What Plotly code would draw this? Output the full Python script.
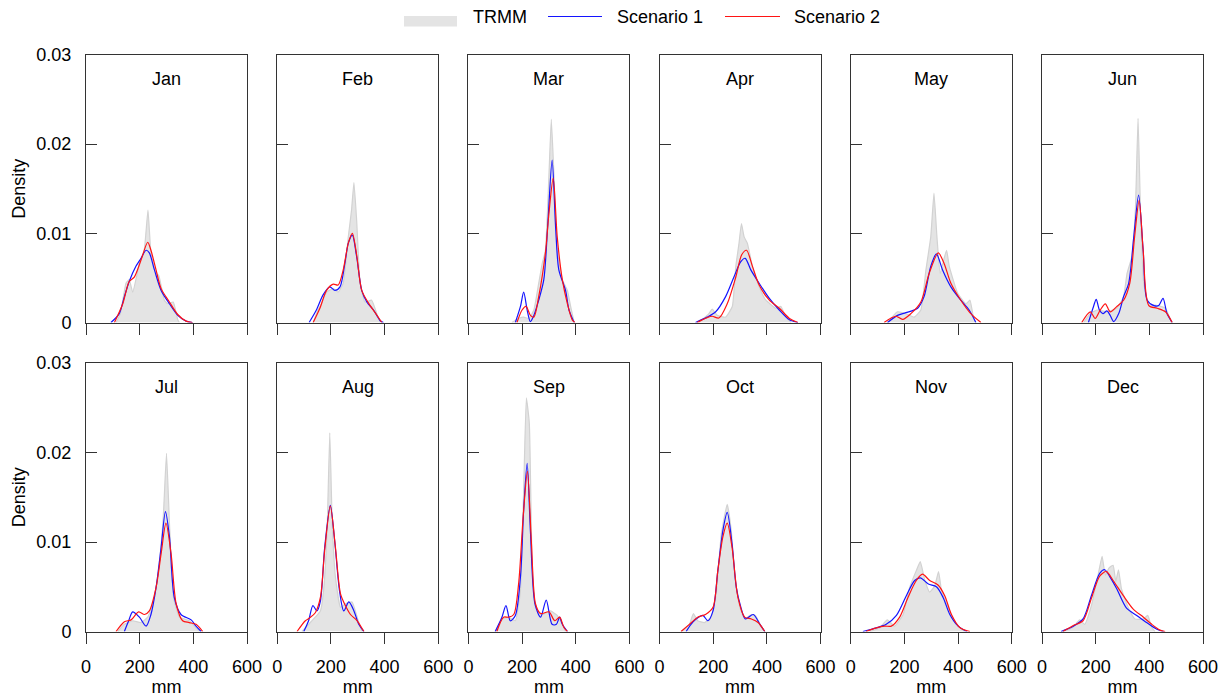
import plotly.graph_objects as go

# ---------------- data (density values in units of 1e-3) ----------------
SCALE = 1e-3
MONTHS = ["Jan", "Feb", "Mar", "Apr", "May", "Jun",
          "Jul", "Aug", "Sep", "Oct", "Nov", "Dec"]
X_TICKS = [0, 200, 400, 600]
Y_TICKS = [0, 0.01, 0.02, 0.03]
Y_TICK_TEXT = ["0", "0.01", "0.02", "0.03"]
SERIES_NAMES = ["TRMM", "Scenario 1", "Scenario 2"]

JAN_TRMM = ([112, 128, 140, 149, 161, 174, 199, 217, 231, 242, 261, 271, 292, 304, 325, 342, 348],
            [0, 1.0, 3.0, 4.4, 4.8, 3.4, 6.6, 8.1, 12.6, 7.8, 5.5, 5.3, 2.5, 2.1, 2.3, 0.3, 0])
JAN_S1 = ([93, 124, 143, 161, 186, 205, 224, 236, 255, 280, 311, 342, 373, 397],
          [0, 1.0, 2.9, 4.6, 6.3, 7.2, 8.1, 7.8, 5.9, 3.6, 2.1, 0.8, 0.15, 0])
JAN_S2 = ([106, 137, 161, 180, 205, 230, 242, 261, 280, 311, 342, 373, 397],
          [0, 2.1, 4.6, 5.1, 7.0, 9.0, 8.1, 5.9, 3.8, 2.3, 0.9, 0.15, 0])

FEB_TRMM = ([134, 152, 165, 184, 209, 227, 246, 265, 277, 286, 296, 309, 327, 352, 371, 384],
            [0, 1.4, 2.1, 3.4, 3.8, 3.4, 4.4, 9.6, 12.6, 15.7, 11.5, 4.4, 2.3, 2.5, 1.0, 0])
FEB_S1 = ([119, 146, 171, 196, 215, 234, 252, 265, 280, 296, 315, 334, 359, 384, 396],
          [0, 1.4, 3.1, 4.0, 3.6, 4.0, 6.6, 8.9, 9.8, 7.4, 3.6, 2.3, 1.4, 0.2, 0])
FEB_S2 = ([134, 159, 184, 209, 227, 246, 265, 280, 296, 315, 340, 365, 390],
          [0, 1.6, 3.6, 4.3, 4.2, 5.9, 8.9, 10.0, 7.6, 3.6, 2.2, 1.1, 0])

MAR_TRMM = ([162, 187, 206, 225, 244, 262, 275, 287, 300, 309, 319, 331, 350, 369, 381, 394],
            [0, 0.45, 0.6, 0.45, 1.4, 4.4, 6.6, 8.1, 16.4, 22.8, 16.4, 8.1, 4.8, 3.6, 1.8, 0])
MAR_S1 = ([175, 194, 206, 219, 231, 244, 262, 281, 296, 312, 325, 337, 362, 375, 394],
          [0, 1.8, 3.4, 1.4, 0.1, 0.8, 2.5, 4.8, 11.1, 18.2, 10.7, 5.9, 3.6, 1.4, 0])
MAR_S2 = ([181, 200, 215, 231, 244, 262, 287, 300, 316, 331, 350, 369, 387, 397],
          [0, 1.4, 1.8, 0.8, 0.6, 2.9, 7.8, 12.2, 16.2, 9.6, 4.8, 2.1, 0.3, 0])

APR_TRMM = ([146, 184, 196, 215, 246, 271, 284, 296, 305, 315, 327, 346, 371, 396, 434, 452, 471, 490],
            [0, 1.0, 1.5, 0.8, 0.6, 1.8, 6.3, 8.9, 11.1, 9.6, 8.9, 6.3, 4.0, 2.5, 1.6, 1.8, 0.6, 0])
APR_S1 = ([134, 177, 209, 246, 277, 302, 319, 340, 371, 409, 446, 484, 515],
          [0, 0.6, 1.2, 2.9, 5.1, 6.8, 7.2, 5.9, 4.4, 2.7, 1.4, 0.3, 0])
APR_S2 = ([140, 177, 196, 221, 252, 284, 306, 324, 346, 371, 409, 446, 484, 515],
          [0, 0.55, 0.7, 0.5, 2.1, 5.1, 7.6, 8.1, 6.3, 4.2, 2.5, 1.6, 0.45, 0])

MAY_TRMM = ([137, 174, 205, 236, 261, 280, 298, 310, 321, 333, 346, 357, 367, 398, 429, 444, 457, 466],
            [0, 1.2, 1.0, 0.6, 1.4, 5.9, 9.6, 14.5, 9.6, 5.5, 7.0, 8.1, 6.3, 3.3, 2.1, 2.5, 0.6, 0])
MAY_S1 = ([137, 174, 205, 249, 273, 298, 319, 342, 373, 410, 441, 466],
          [0, 0.8, 1.1, 1.6, 2.9, 6.3, 7.7, 5.9, 4.0, 2.5, 1.4, 0])
MAY_S2 = ([124, 168, 193, 224, 261, 292, 326, 348, 373, 410, 447, 485],
          [0, 0.7, 0.35, 1.0, 2.3, 5.5, 7.8, 6.6, 4.4, 2.5, 1.0, 0])

JUN_TRMM = ([155, 180, 205, 242, 279, 304, 317, 335, 348, 358, 367, 379, 398, 429, 460, 479, 485],
            [0, 1.0, 1.4, 1.2, 1.6, 2.9, 5.5, 7.4, 12.6, 22.9, 12.6, 4.4, 2.1, 1.9, 1.6, 0.3, 0])
JUN_S1 = ([173, 192, 202, 214, 227, 242, 254, 267, 286, 304, 323, 342, 360, 377, 392, 417, 435, 451, 466, 485],
          [0, 1.8, 2.6, 1.4, 1.0, 1.3, 0.8, 0.1, 1.0, 2.9, 4.4, 9.6, 14.3, 8.1, 2.5, 1.9, 1.9, 2.7, 1.0, 0])
JUN_S2 = ([148, 180, 198, 217, 236, 254, 279, 304, 327, 345, 362, 377, 398, 429, 460, 485],
          [0, 1.2, 0.45, 1.4, 2.1, 1.2, 1.8, 2.5, 4.4, 9.6, 13.7, 8.1, 1.9, 1.6, 1.2, 0])

JUL_TRMM = ([118, 143, 174, 205, 230, 255, 273, 288, 300, 311, 326, 348, 385, 410, 423],
            [0, 0.8, 1.2, 1.0, 1.6, 3.8, 7.6, 12.8, 19.9, 12.1, 3.8, 1.6, 1.2, 0.4, 0])
JUL_S1 = ([143, 159, 174, 199, 224, 242, 261, 280, 296, 311, 329, 354, 392, 410, 429],
          [0, 1.2, 2.2, 1.6, 0.6, 1.9, 4.9, 9.4, 13.4, 10.6, 3.8, 1.9, 1.3, 0.6, 0])
JUL_S2 = ([112, 143, 168, 196, 218, 236, 261, 280, 298, 317, 336, 360, 385, 410, 435],
          [0, 1.1, 1.3, 2.2, 1.9, 2.3, 4.9, 8.7, 12.1, 8.7, 3.1, 1.2, 1.0, 0.8, 0])

AUG_TRMM = ([92, 117, 142, 161, 173, 186, 196, 205, 217, 236, 254, 279, 298, 310, 317],
            [0, 0.8, 1.6, 2.3, 4.6, 11.3, 22.2, 12.1, 6.1, 2.7, 3.1, 3.3, 1.6, 0.45, 0])
AUG_S1 = ([99, 117, 133, 148, 161, 177, 198, 214, 232, 248, 267, 286, 304, 323],
          [0, 1.2, 2.9, 2.3, 3.4, 9.4, 14.1, 10.2, 4.6, 2.3, 3.3, 2.3, 0.8, 0])
AUG_S2 = ([74, 105, 120, 142, 161, 177, 198, 217, 236, 254, 273, 298, 323],
          [0, 1.2, 1.5, 2.1, 3.8, 9.1, 14.0, 9.4, 4.2, 2.9, 1.9, 1.2, 0])

SEP_TRMM = ([100, 125, 150, 175, 194, 206, 216, 227, 237, 250, 275, 306, 331, 350, 362],
            [0, 1.4, 1.6, 1.2, 4.6, 15.8, 26.1, 23.3, 8.3, 2.7, 1.9, 2.3, 1.8, 0.8, 0])
SEP_S1 = ([100, 125, 140, 156, 175, 194, 206, 219, 231, 248, 269, 290, 312, 328, 340, 350, 369],
          [0, 1.6, 2.9, 1.2, 1.8, 6.1, 13.6, 18.8, 11.3, 3.1, 1.6, 3.5, 0.8, 0.8, 1.6, 0.8, 0])
SEP_S2 = ([106, 131, 150, 169, 187, 204, 220, 235, 250, 269, 300, 322, 340, 356, 369],
          [0, 1.6, 1.6, 1.9, 5.3, 12.8, 17.9, 9.8, 3.1, 2.0, 2.2, 1.2, 1.6, 0.45, 0])

OCT_TRMM = ([80, 111, 126, 142, 167, 192, 211, 230, 252, 267, 280, 299, 317, 342, 357, 380, 392],
            [0, 0.8, 2.0, 1.2, 1.0, 1.6, 4.2, 10.9, 14.2, 11.3, 6.1, 2.7, 1.4, 1.9, 1.8, 0.45, 0])
OCT_S1 = ([99, 117, 136, 161, 180, 199, 217, 236, 252, 270, 286, 302, 320, 349, 374, 392],
          [0, 0.8, 1.4, 1.8, 1.2, 2.3, 6.8, 11.3, 13.3, 9.8, 4.9, 2.8, 1.4, 1.9, 0.8, 0])
OCT_S2 = ([80, 111, 142, 171, 199, 217, 236, 252, 270, 292, 317, 342, 367, 392],
          [0, 0.8, 1.6, 1.9, 2.7, 6.8, 10.6, 12.1, 9.4, 3.8, 1.6, 1.4, 1.0, 0])

NOV_TRMM = ([70, 107, 136, 163, 195, 219, 244, 259, 276, 294, 313, 327, 338, 357, 382, 406, 425],
            [0, 0.4, 1.3, 0.6, 1.9, 4.9, 6.8, 7.8, 5.7, 4.4, 5.1, 6.7, 4.6, 3.1, 1.4, 0.45, 0])
NOV_S1 = ([45, 95, 132, 170, 207, 238, 259, 289, 319, 344, 369, 400, 432],
          [0, 0.4, 0.8, 1.8, 4.0, 5.7, 6.0, 5.3, 5.0, 3.8, 1.9, 0.6, 0])
NOV_S2 = ([57, 95, 126, 151, 182, 213, 244, 267, 294, 325, 350, 375, 406, 444],
          [0, 0.4, 0.6, 0.6, 1.6, 3.8, 5.7, 6.4, 5.7, 5.2, 4.0, 1.9, 0.45, 0])

DEC_TRMM = ([78, 115, 140, 159, 184, 209, 224, 236, 250, 265, 275, 285, 296, 321, 346, 378, 394, 409, 421],
            [0, 0.45, 1.3, 0.8, 2.9, 6.3, 8.4, 6.3, 7.1, 7.4, 5.6, 6.9, 4.8, 2.7, 1.4, 1.4, 1.8, 0.45, 0])
DEC_S1 = ([71, 115, 153, 184, 215, 234, 253, 278, 315, 353, 390, 428, 453],
          [0, 0.55, 1.4, 4.0, 6.5, 6.9, 6.1, 4.8, 2.6, 1.8, 1.0, 0.25, 0])
DEC_S2 = ([78, 115, 153, 184, 215, 240, 265, 303, 340, 378, 409, 440, 459],
          [0, 0.65, 1.2, 3.7, 6.2, 6.7, 5.7, 4.0, 2.5, 1.6, 0.8, 0.15, 0])

DATA = {
    "Jan": (JAN_TRMM, JAN_S1, JAN_S2), "Feb": (FEB_TRMM, FEB_S1, FEB_S2),
    "Mar": (MAR_TRMM, MAR_S1, MAR_S2), "Apr": (APR_TRMM, APR_S1, APR_S2),
    "May": (MAY_TRMM, MAY_S1, MAY_S2), "Jun": (JUN_TRMM, JUN_S1, JUN_S2),
    "Jul": (JUL_TRMM, JUL_S1, JUL_S2), "Aug": (AUG_TRMM, AUG_S1, AUG_S2),
    "Sep": (SEP_TRMM, SEP_S1, SEP_S2), "Oct": (OCT_TRMM, OCT_S1, OCT_S2),
    "Nov": (NOV_TRMM, NOV_S1, NOV_S2), "Dec": (DEC_TRMM, DEC_S1, DEC_S2),
}

# ---------------- layout geometry ----------------
W, H = 1232, 699
COL_LEFT = [86, 277.2, 468.4, 659.6, 850.8, 1042]
PANEL_W = 161
ROW_TOP = [55, 363]
ROW_BOT = [322.5, 631.5]
FONT = "Arial, Liberation Sans, sans-serif"
AXIS_COLOR = "#333333"
TRMM_FILL = "rgb(228,228,228)"
TRMM_LINE = "rgb(210,210,210)"
BLUE = "rgb(20,20,255)"
RED = "rgb(255,20,20)"

fig = go.Figure()
layout = {}
annotations = []
shapes = []

for i, m in enumerate(MONTHS):
    r, c = divmod(i, 6)
    n = i + 1
    xa = "x" if n == 1 else f"x{n}"
    ya = "y" if n == 1 else f"y{n}"
    trmm, s1, s2 = DATA[m]
    fig.add_trace(go.Scatter(
        x=trmm[0], y=[v * SCALE for v in trmm[1]], xaxis=xa, yaxis=ya,
        mode="lines", fill="tozeroy", fillcolor=TRMM_FILL, name=SERIES_NAMES[0],
        line=dict(color=TRMM_LINE, width=1.2, shape="spline", smoothing=0.4),
        showlegend=False, hoverinfo="skip"))
    fig.add_trace(go.Scatter(
        x=s1[0], y=[v * SCALE for v in s1[1]], xaxis=xa, yaxis=ya, name=SERIES_NAMES[1],
        mode="lines", line=dict(color=BLUE, width=1.2, shape="spline", smoothing=0.8),
        showlegend=False, hoverinfo="skip"))
    fig.add_trace(go.Scatter(
        x=s2[0], y=[v * SCALE for v in s2[1]], xaxis=xa, yaxis=ya, name=SERIES_NAMES[2],
        mode="lines", line=dict(color=RED, width=1.2, shape="spline", smoothing=0.8),
        showlegend=False, hoverinfo="skip"))

    xkey = "xaxis" if n == 1 else f"xaxis{n}"
    ykey = "yaxis" if n == 1 else f"yaxis{n}"
    layout[xkey] = dict(
        domain=[COL_LEFT[c] / W, (COL_LEFT[c] + PANEL_W) / W], anchor=ya,
        range=[0, 600], tickvals=X_TICKS, ticks="outside", ticklen=11,
        tickcolor=AXIS_COLOR, showline=True, mirror=True, linecolor=AXIS_COLOR,
        linewidth=1, showgrid=False, zeroline=False, automargin=False,
        showticklabels=(r == 1), ticklabelstandoff=8,
        tickfont=dict(size=18, color="#000", family=FONT),
        title=dict(text="mm" if r == 1 else "", standoff=2,
                   font=dict(size=18, color="#000", family=FONT)))
    layout[ykey] = dict(
        domain=[1 - ROW_BOT[r] / H, 1 - ROW_TOP[r] / H], anchor=xa,
        range=[0, 0.03], tickvals=Y_TICKS, ticktext=Y_TICK_TEXT,
        ticks="inside", ticklen=11, tickcolor=AXIS_COLOR,
        showline=True, mirror=True, linecolor=AXIS_COLOR, linewidth=1,
        showgrid=False, zeroline=False, showticklabels=(c == 0), automargin=False,
        ticklabelstandoff=10,
        tickfont=dict(size=18, color="#000", family=FONT),
        title=dict(text="Density" if c == 0 else "", standoff=6,
                   font=dict(size=18, color="#000", family=FONT)))
    annotations.append(dict(
        text=m, xref=f"{xa} domain", yref=f"{ya} domain", x=0.5, y=0.91,
        xanchor="center", yanchor="middle", showarrow=False,
        font=dict(size=18, color="#000", family=FONT)))

# legend drawn as shapes + text (paper pixels converted to paper fractions)
def px(xp):
    return xp / W

def py(yp):
    return 1 - yp / H

shapes.append(dict(type="rect", xref="paper", yref="paper",
                   x0=px(404), x1=px(457), y0=py(26.5), y1=py(16),
                   fillcolor=TRMM_FILL, line=dict(width=0)))
shapes.append(dict(type="line", xref="paper", yref="paper",
                   x0=px(548), x1=px(602), y0=py(16.5), y1=py(16.5),
                   line=dict(color=BLUE, width=1.2)))
shapes.append(dict(type="line", xref="paper", yref="paper",
                   x0=px(725), x1=px(780), y0=py(16.5), y1=py(16.5),
                   line=dict(color=RED, width=1.2)))
for name, xl in zip(SERIES_NAMES, [471, 615, 792]):
    annotations.append(dict(text=name, xref="paper", yref="paper",
                            x=px(xl), y=py(17), xanchor="left", yanchor="middle",
                            showarrow=False,
                            font=dict(size=18, color="#000", family=FONT)))

fig.update_layout(
    width=W, height=H, margin=dict(l=0, r=0, t=0, b=0, autoexpand=False),
    paper_bgcolor="white", plot_bgcolor="white",
    font=dict(family=FONT, size=18, color="#000"),
    showlegend=False,
    annotations=annotations, shapes=shapes,
    **layout)

fig.write_html("out.html")
